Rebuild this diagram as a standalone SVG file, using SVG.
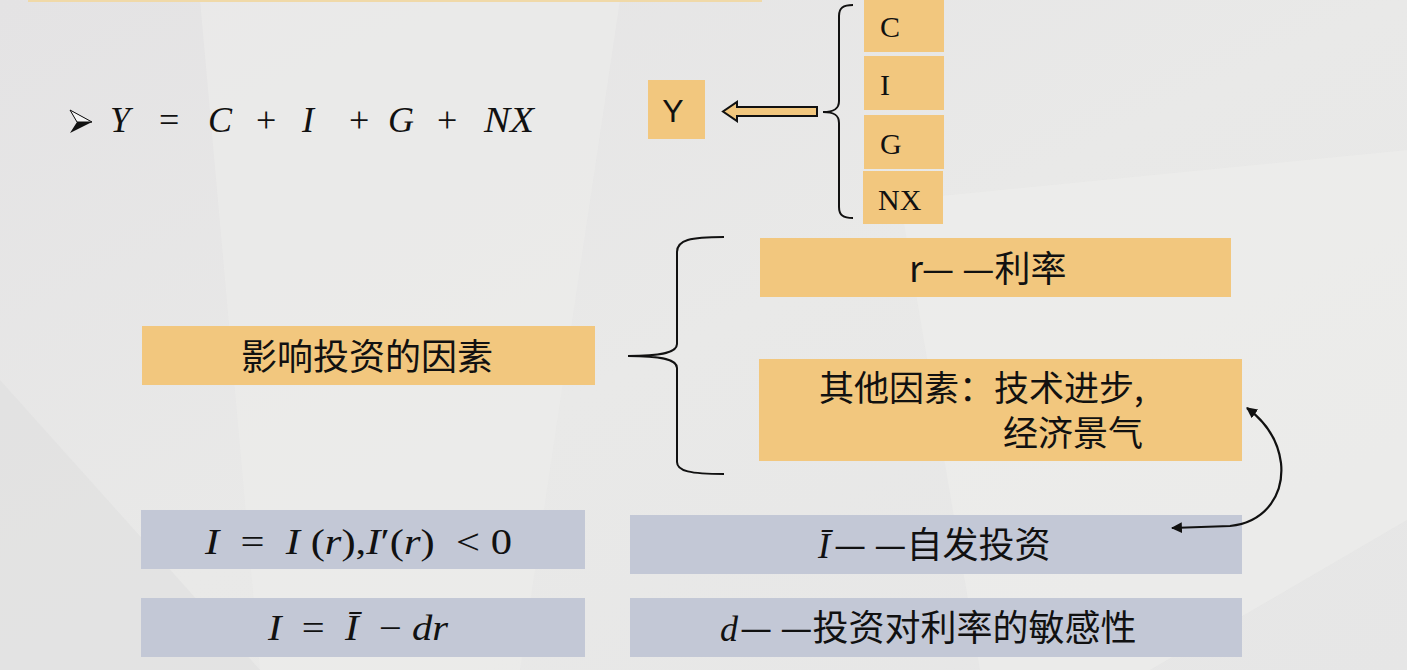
<svg xmlns="http://www.w3.org/2000/svg" width="1407" height="670" viewBox="0 0 1407 670">
<defs>
<style>
.or{fill:#f2c77e}
.gb{fill:#c3c8d6}
.cjk{font-family:"Noto Sans CJK SC","Noto Sans",sans-serif;fill:#111}
.ser{font-family:"Liberation Serif","DejaVu Serif",serif;fill:#111}
.it{font-style:italic}
.br{fill:none;stroke:#111;stroke-width:2}
</style>
<linearGradient id="bg" x1="0" y1="0" x2="1" y2="1">
<stop offset="0" stop-color="#e4e3e4"/>
<stop offset="0.5" stop-color="#e9e9e8"/>
<stop offset="1" stop-color="#e6e6e6"/>
</linearGradient>
<marker id="ah" viewBox="0 0 10 10" refX="9" refY="5" markerWidth="5" markerHeight="5" orient="auto-start-reverse" markerUnits="strokeWidth">
<path d="M0,0 L10,5 L0,10 Z" fill="#111"/>
</marker>
</defs>
<rect width="1407" height="670" fill="url(#bg)"/>
<polygon points="200,0 620,0 520,670 260,670" fill="#ececeb" opacity="0.6"/>
<polygon points="900,200 1407,150 1407,520 1150,670 980,670" fill="#efefee" opacity="0.5"/>
<polygon points="0,380 260,670 0,670" fill="#e0e0e0" opacity="0.6"/>
<rect x="28" y="0" width="734" height="2" fill="#f0d9a8"/>

<g id="formula-main">
<polygon points="70,110 92,122 70,133 77,122" fill="#111"/>
<polygon points="70,110 92,122 77,122" fill="#f4f4f4" stroke="#111" stroke-width="1"/>
<g font-size="36">
<text class="ser it" x="110" y="132">Y</text>
<text class="ser" x="159" y="132">=</text>
<text class="ser it" x="208" y="132">C</text>
<text class="ser" x="256" y="132">+</text>
<text class="ser it" x="302" y="132">I</text>
<text class="ser" x="349" y="132">+</text>
<text class="ser it" x="388" y="132">G</text>
<text class="ser" x="437" y="132">+</text>
<text class="ser it" x="484" y="132" textLength="50" lengthAdjust="spacingAndGlyphs">NX</text>
</g>
</g>

<g id="node-Y">
<rect class="or" x="648" y="80" width="57" height="59"/>
<text x="673" y="122" text-anchor="middle" font-family="Liberation Sans,Arial,sans-serif" font-size="32" fill="#111">Y</text>
</g>
<g id="node-C">
<rect class="or" x="864" y="0" width="80" height="52"/>
<text class="ser" x="880" y="37" font-size="30">C</text>
</g>
<g id="node-I">
<rect class="or" x="864" y="56" width="80" height="54"/>
<text class="ser" x="880" y="95" font-size="30">I</text>
</g>
<g id="node-G">
<rect class="or" x="864" y="115" width="80" height="54"/>
<text class="ser" x="880" y="154" font-size="30">G</text>
</g>
<g id="node-NX">
<rect class="or" x="863" y="171" width="80" height="53"/>
<text class="ser" x="878" y="210" font-size="30">NX</text>
</g>

<g id="node-factors">
<rect class="or" x="142" y="326" width="453" height="59"/>
<text class="cjk" x="367" y="370" text-anchor="middle" font-size="36">影响投资的因素</text>
</g>
<g id="node-r">
<rect class="or" x="760" y="238" width="471" height="59"/>
<text class="cjk" x="909" y="282" font-size="36">r— —利率</text>
</g>
<g id="node-other">
<rect class="or" x="759" y="359" width="483" height="102"/>
<text class="cjk" font-size="35"><tspan x="819" y="401">其他因素：技术进步,</tspan><tspan x="1003" y="446">经济景气</tspan></text>
</g>

<g id="node-I-r">
<rect class="gb" x="141" y="510" width="444" height="59"/>
<text class="ser" y="554" font-size="36" x="205" textLength="307" lengthAdjust="spacingAndGlyphs" xml:space="preserve"><tspan class="it">I</tspan>  =  <tspan class="it">I</tspan> (<tspan class="it">r</tspan>),<tspan class="it">I</tspan>′(<tspan class="it">r</tspan>)  &lt; 0</text>
</g>
<g id="node-I-linear">
<rect class="gb" x="141" y="598" width="444" height="59"/>
<text class="ser" y="640" font-size="36" x="268" textLength="180" lengthAdjust="spacingAndGlyphs" xml:space="preserve"><tspan class="it">I</tspan>  =  <tspan class="it">Ī</tspan>  − <tspan class="it">dr</tspan></text>
</g>
<g id="node-Ibar">
<rect class="gb" x="630" y="515" width="612" height="59"/>
<text y="558" font-size="36"><tspan class="ser it" x="818">Ī</tspan><tspan class="cjk" x="834">— —自发投资</tspan></text>
</g>
<g id="node-d">
<rect class="gb" x="630" y="598" width="612" height="59"/>
<text y="641" font-size="36"><tspan class="ser it" x="720">d</tspan><tspan class="cjk" x="740">— —投资对利率的敏感性</tspan></text>
</g>

<g id="connectors">
<path class="br" d="M853,5 C843,5 839,8 839,16 L839,101 C839,109 834,112 823,112 C834,112 839,115 839,123 L839,207 C839,215 843,218 853,218"/>
<polygon points="817,107 737,107 737,102 723,111.5 737,121 737,116 817,116" fill="#f2c77e" stroke="#111" stroke-width="2" stroke-linejoin="miter"/>
<path class="br" stroke-width="1.6" d="M724,237 C690,237 677,240 677,252 L677,344 C677,352 664,356 628,356 C664,356 677,360 677,368 L677,462 C677,471 690,474 724,474"/>
<path fill="none" stroke="#111" stroke-width="2.2" marker-start="url(#ah)" marker-end="url(#ah)" d="M1172,528 L1230,526 C1268,522 1284,492 1281,463 C1278,440 1266,422 1247,408"/>
</g>
</svg>
